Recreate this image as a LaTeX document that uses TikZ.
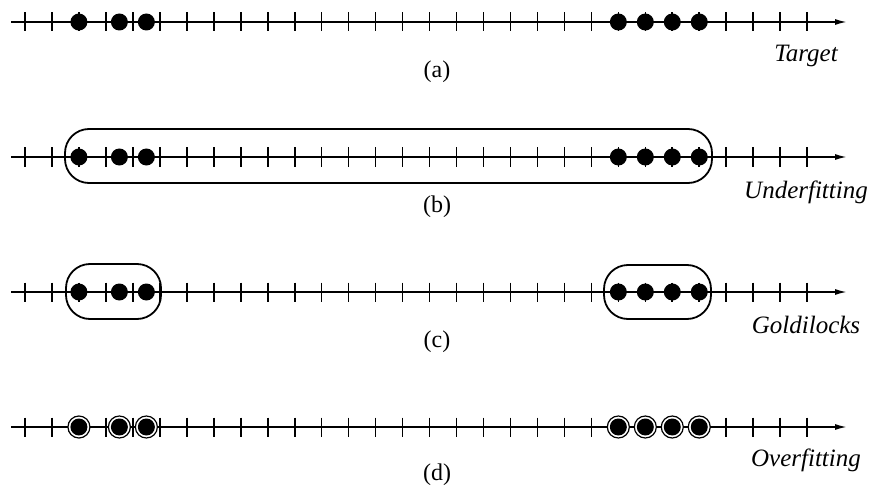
\documentclass[tikz,border=0pt]{standalone}
\usepackage{fontspec}
\setmainfont{Liberation Serif}
\usetikzlibrary{arrows.meta}
\begin{document}
\begin{tikzpicture}[x=1pt,y=-1pt,
  axisline/.style={line width=1.6pt,-{Latex[length=12pt,width=6pt]}},
  tickmark/.style={line width=1.6pt},
  dot/.style={circle,fill=black,inner sep=0pt,minimum size=17pt},
  ring/.style={circle,draw=black,fill=white,line width=1.2pt,inner sep=0pt,minimum size=22pt},
  hull/.style={draw=black,line width=1.8pt,rounded corners=24pt},
  sublabel/.style={font=\fontsize{24}{28}\selectfont,inner sep=0pt},
  tag/.style={font=\fontsize{25}{30}\selectfont\itshape,anchor=base,inner sep=0pt}]
\useasboundingbox (0,0) rectangle (874,489);
\def\dd{26.97}
% axes and ticks
\foreach \r/\y in {a/22,b/157,c/292,d/427}{
  \coordinate (s\r) at (11,\y);
  \coordinate (e\r) at (847,\y);
  \draw[axisline] (s\r) -- (e\r);
  \foreach \i in {0,...,29}
    \draw[tickmark] ({25+\i*\dd},\y-9.5) -- ({25+\i*\dd},\y+9.5);
}
% hulls
\draw[hull] (65,129) rectangle (712,183);
\draw[hull] (66,264) rectangle (161,319);
\draw[hull] (604,265) rectangle (711,319);
% dots
\foreach \r/\y in {a/22,b/157,c/292}{
  \foreach \k/\i in {1/2,2/3.5,3/4.5,4/22,5/23,6/24,7/25}
    \node[dot] (\r\k) at ({25+\i*\dd},\y) {};
}
\foreach \k/\i in {1/2,2/3.5,3/4.5,4/22,5/23,6/24,7/25}{
  \node[ring] (rd\k) at ({25+\i*\dd},427) {};
  \node[dot] (d\k) at ({25+\i*\dd},427) {};
}
% labels
\node[sublabel] (la) at (437,72) {(a)};
\node[sublabel] (lb) at (437,207) {(b)};
\node[sublabel] (lc) at (437,342) {(c)};
\node[sublabel] (ld) at (437,475) {(d)};
\node[tag] (ta) at (806,62) {Target};
\node[tag] (tb) at (806,198) {Underfitting};
\node[tag] (tc) at (806,333) {Goldilocks};
\node[tag] (td) at (806,466) {Overfitting};
\end{tikzpicture}
\end{document}
